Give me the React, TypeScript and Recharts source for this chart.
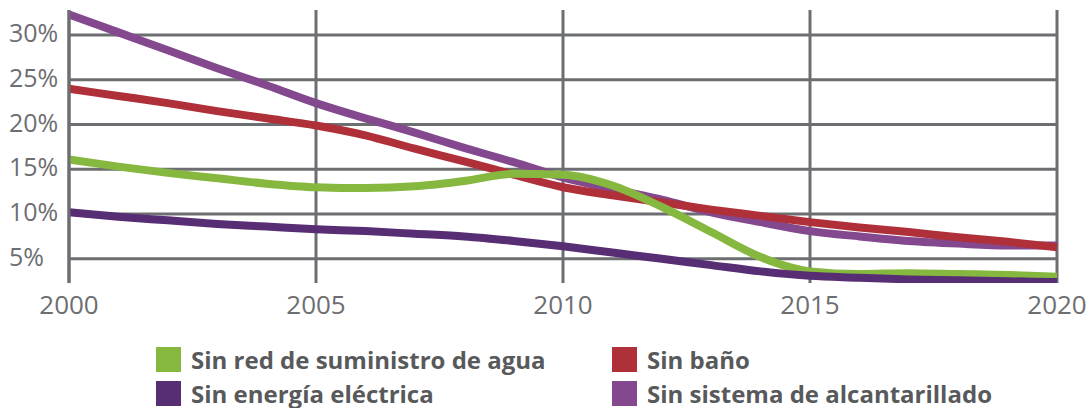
import React from "react";
import { LineChart, Line, XAxis, YAxis, ReferenceLine } from "recharts";

const years = [2000, 2001, 2002, 2003, 2004, 2005, 2006, 2007, 2008, 2009, 2010, 2011, 2012, 2013, 2014, 2015, 2016, 2017, 2018, 2019, 2020];
const sinRedAgua = [16.1, 15.3, 14.6, 14.0, 13.4, 13.0, 12.9, 13.1, 13.7, 14.5, 14.4, 13.2, 10.8, 8.0, 5.2, 3.6, 3.3, 3.4, 3.3, 3.2, 3.0];
const sinBano = [24.0, 23.2, 22.4, 21.5, 20.7, 19.9, 18.8, 17.3, 15.9, 14.4, 13.0, 12.1, 11.3, 10.5, 9.8, 9.1, 8.5, 8.0, 7.4, 6.9, 6.3];
const sinEnergia = [10.2, 9.7, 9.3, 8.9, 8.6, 8.3, 8.1, 7.8, 7.5, 7.0, 6.4, 5.7, 5.0, 4.3, 3.6, 3.1, 2.9, 2.7, 2.6, 2.5, 2.4];
const sinAlcantarillado = [32.3, 30.3, 28.3, 26.3, 24.4, 22.4, 20.7, 19.1, 17.4, 15.8, 14.1, 12.8, 11.6, 10.2, 9.1, 8.1, 7.5, 7.0, 6.7, 6.5, 6.5];

const xTicks = [2000, 2005, 2010, 2015, 2020];
const yTicks = [5, 10, 15, 20, 25, 30];

const seriesLabels = ["Sin red de suministro de agua", "Sin baño", "Sin energía eléctrica", "Sin sistema de alcantarillado"];
const seriesKeys = ["agua", "bano", "energia", "alcantarillado"];
const seriesColors = ["#86b83f", "#b0303a", "#572d73", "#84488f"];

const data = years.map((y, i) => ({
  year: y,
  agua: sinRedAgua[i],
  bano: sinBano[i],
  energia: sinEnergia[i],
  alcantarillado: sinAlcantarillado[i],
}));

const GRID = "#6d6e71";
const TICK_FONT = "'Open Sans', sans-serif";

const YTick = (props: any) => {
  const { x, y, payload } = props;
  return (
    <text x={x - 58} y={y} dy={7} textAnchor="start" fill="#6d6e71" fontFamily={TICK_FONT} fontWeight={400} fontSize={25}>
      {payload.value}%
    </text>
  );
};

const XTick = (props: any) => {
  const { x, y, payload } = props;
  return (
    <text x={x} y={y} dy={29} textAnchor="middle" fill="#6d6e71" fontFamily={TICK_FONT} fontWeight={400} fontSize={26}>
      {payload.value}
    </text>
  );
};

const drawOrder = [3, 1, 0, 2];

export default function App() {
  return (
    <div style={{ position: "absolute", left: 0, top: 0, width: 1091, height: 408, background: "#fff" }}>
      <LineChart width={1091} height={408} data={data} margin={{ top: 10, right: 34, left: 0, bottom: 85 }}>
        <XAxis
          dataKey="year"
          type="number"
          domain={[2000, 2020]}
          ticks={xTicks}
          axisLine={false}
          tickLine={false}
          tickSize={0}
          height={40}
          tick={<XTick />}
          interval={0}
        />
        <YAxis
          type="number"
          domain={[2.3, 32.8]}
          ticks={yTicks}
          axisLine={{ stroke: GRID, strokeWidth: 3 }}
          tickLine={false}
          tickSize={0}
          width={69}
          tick={<YTick />}
          interval={0}
          allowDataOverflow={true}
        />
        {yTicks.map((t) => (
          <ReferenceLine key={"h" + t} y={t} stroke={GRID} strokeWidth={3} />
        ))}
        {xTicks.map((t) => (
          <ReferenceLine key={"v" + t} x={t} stroke={GRID} strokeWidth={3} />
        ))}
        {drawOrder.map((i) => (
          <Line
            key={seriesKeys[i]}
            type="monotone"
            dataKey={seriesKeys[i]}
            stroke={seriesColors[i]}
            strokeWidth={8}
            dot={false}
            activeDot={false}
            isAnimationActive={false}
          />
        ))}
      </LineChart>
      <div style={{ position: "absolute", left: 0, top: 323, width: 1091, height: 85 }}>
        {seriesLabels.map((label, i) => {
          const col = i % 2;
          const row = Math.floor(i / 2);
          return (
            <div
              key={label}
              style={{
                position: "absolute",
                left: col === 0 ? 156 : 612,
                top: row === 0 ? 24 : 58,
                display: "flex",
                alignItems: "center",
                height: 25,
              }}
            >
              <div style={{ width: 25, height: 25, background: seriesColors[i] }} />
              <span
                style={{
                  marginLeft: 10,
                  fontFamily: "'Open Sans', sans-serif",
                  fontWeight: 700,
                  fontSize: 24,
                  color: "#58595b",
                  whiteSpace: "nowrap",
                  lineHeight: "25px",
                }}
              >
                {label}
              </span>
            </div>
          );
        })}
      </div>
    </div>
  );
}
